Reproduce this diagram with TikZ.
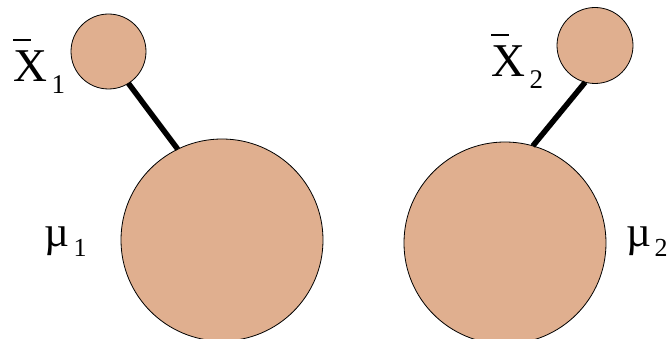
\documentclass[tikz,border=0pt]{standalone}
\usepackage{fontspec}
\setmainfont{Liberation Serif}
\definecolor{skin}{HTML}{E0AF8F}
\newcommand\barX[1]{\makebox[0pt][l]{\raisebox{0.88em}{\rule{0.38em}{0.045em}}}X\hspace{0.1em}\raisebox{-0.24em}{\fontsize{27}{27}\selectfont #1}}
\newcommand\muSub[1]{{\fontsize{43}{43}\selectfont\textmu}\hspace{0.08em}\raisebox{-0.2em}{\fontsize{26}{26}\selectfont #1}}
\begin{document}
\begin{tikzpicture}[x=1pt,y=-1pt,
  ball/.style={circle,draw=black,line width=0.8pt,fill=skin,inner sep=0pt,outer sep=0pt},
  stick/.style={line width=5.5pt,black},
  lab/.style={inner sep=0pt,outer sep=0pt,font=\fontsize{47}{47}\selectfont}]
\useasboundingbox (0,0) rectangle (670,339);
\node[ball,minimum size=202pt] (b1) at (222,240) {};
\node[ball,minimum size=202pt] (b2) at (505,243) {};
\node[ball,minimum size=75pt] (s1) at (108.5,51.5) {};
\node[ball,minimum size=76pt] (s2) at (595,45.5) {};
\draw[stick] (s1.-58) -- (b1.116);
\draw[stick] (s2.-105) -- (b2.74);
\node[lab,anchor=base west] (x1) at (13,82) {\barX{1}};
\node[lab,anchor=base west] (x2) at (491,77) {\barX{2}};
\node[lab,anchor=base west] (m1) at (45,247) {\muSub{1}};
\node[lab,anchor=base west] (m2) at (626,247) {\muSub{2}};
\end{tikzpicture}
\end{document}
